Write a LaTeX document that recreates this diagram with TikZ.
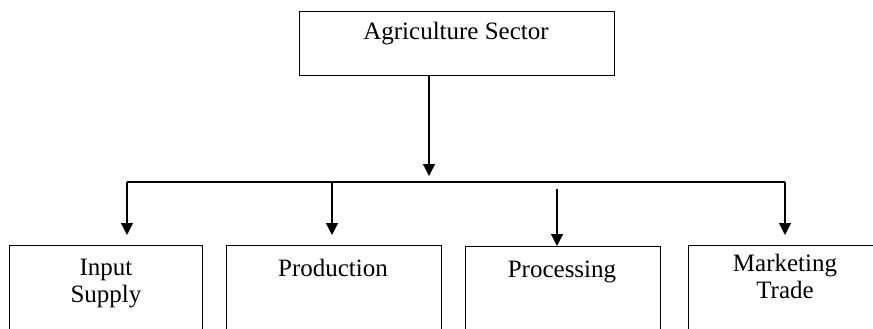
\documentclass[tikz,border=0pt]{standalone}
\usepackage{fontspec}
\setmainfont{Liberation Serif}
\usetikzlibrary{arrows.meta}
\begin{document}
\begin{tikzpicture}[x=1pt,y=-1pt,
  box/.style={draw=black, line width=1.3pt, rectangle, inner sep=0pt, minimum height=130pt, anchor=north west},
  lab/.style={font=\fontsize{25}{27}\selectfont, align=center, anchor=base, inner sep=0pt},
  conn/.style={line width=1.3pt},
  arr/.style={line width=1.3pt, -{Triangle[length=12pt,width=12pt]}}]
\useasboundingbox (0,0) rectangle (873,329);
\clip (0,0) rectangle (873,329);
% top box
\node[box, minimum width=315pt, minimum height=64pt] (sector) at (299,11) {};
\node[lab] (sectorlab) at (456,40) {Agriculture Sector};
% bottom boxes
\node[box, minimum width=193pt] (input) at (9,245) {};
\node[lab] (inputlab) at (106,302) {Input\\Supply};
\node[box, minimum width=215pt] (prod) at (226,245) {};
\node[lab] (prodlab) at (333,276) {Production};
\node[box, minimum width=195pt] (proc) at (465,246) {};
\node[lab] (proclab) at (562,277) {Processing};
\node[box, minimum width=200pt] (mkt) at (688,245) {};
\node[lab] (mktlab) at (785,298) {Marketing\\Trade};
% connectors
\coordinate (hubtip) at (429,176);
\draw[arr] (sector.south -| hubtip) -- (hubtip);
\coordinate (jl) at (127,182);
\coordinate (jr) at (785,182);
\draw[conn] (jl) -- (jr);
\coordinate (t1) at (127,235);
\draw[arr] (jl) -- (t1);
\coordinate (j2) at (332,182);
\coordinate (t2) at (332,235);
\draw[arr] (j2) -- (t2);
\coordinate (s3) at (557,189);
\draw[arr] (s3) -- (proc.north -| s3);
\coordinate (t4) at (785,235);
\draw[arr] (jr) -- (t4);
\end{tikzpicture}
\end{document}
